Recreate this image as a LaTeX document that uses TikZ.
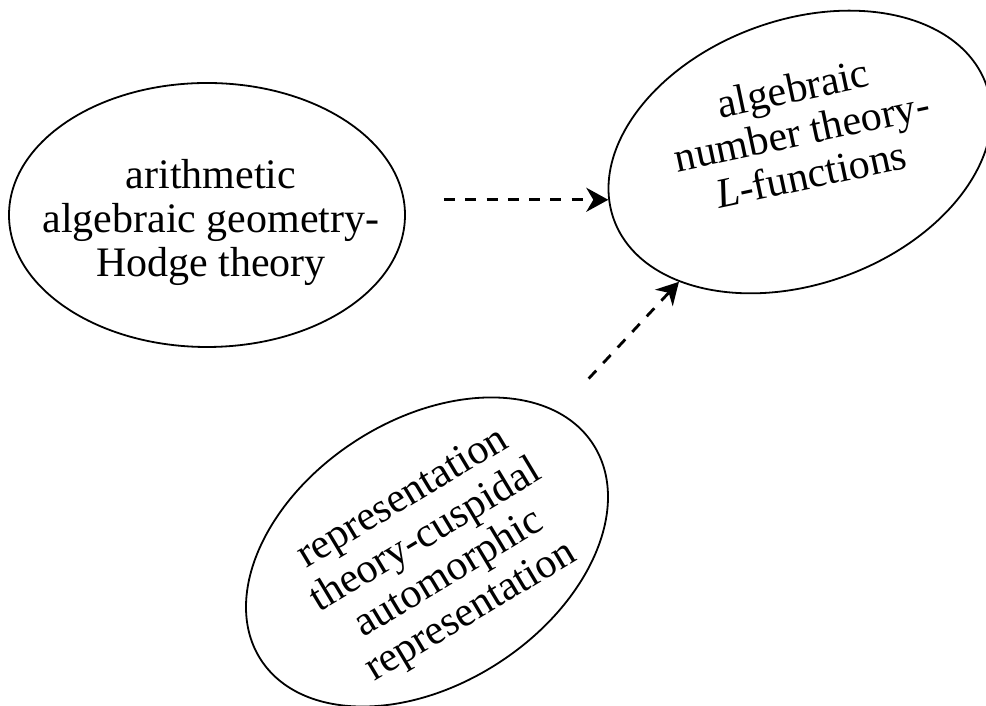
\documentclass[tikz,border=0pt]{standalone}
\usepackage{fontspec}
\setmainfont{Liberation Serif}
\usepackage{tikz}
\usetikzlibrary{arrows.meta,positioning,shapes.geometric,calc}
\tikzset{
  field/.style={draw,ellipse,line width=1.8pt,minimum width=396pt,minimum height=264pt,inner sep=0pt},
  fieldtxt/.style={align=center,inner sep=0pt,font=\fontsize{42}{44}\selectfont},
  arr/.style={-{Stealth[length=22pt,width=24pt,inset=7pt]},line width=2.8pt,dash pattern=on 11pt off 10.3pt},
}

\begin{document}
\begin{tikzpicture}[x=1pt,y=1pt]
\useasboundingbox (0,0) rectangle (986,706);
\node[field] (hodge) at (207,491) {};
\node[field,rotate=20] (lfun) at (800,554) {};
\node[field,rotate=33] (rep) at (427,154) {};
\node[fieldtxt] (hodgetxt) at (211,484) {arithmetic\\algebraic geometry-\\Hodge theory};
\node[fieldtxt,rotate=12] (lfuntxt) at (802,575) {algebraic\\number theory-\\\textit{L}-functions};
\node[fieldtxt,rotate=31] (reptxt) at (438,150) {representation\\theory-cuspidal\\automorphic\\representation};
\draw[arr] ($(hodge.east |- lfun.174)+(38,0)$) -- (lfun.174);
\draw[arr,shorten <=45pt] (rep) -- (lfun);
\end{tikzpicture}
\end{document}
